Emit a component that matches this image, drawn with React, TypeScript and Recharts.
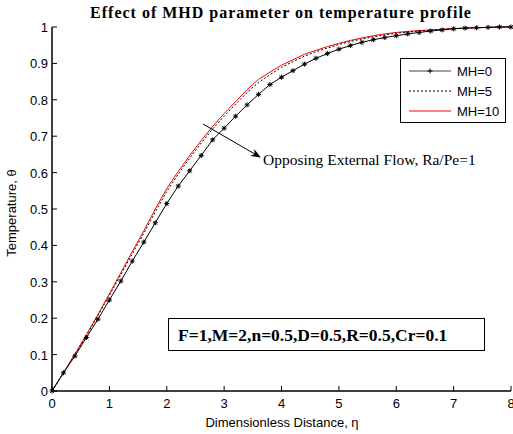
import React from "react";
import { LineChart, Line, XAxis, YAxis, Legend } from "recharts";

const eta = [0, 0.2, 0.4, 0.6, 0.8, 1.0, 1.2, 1.4, 1.6, 1.8, 2.0, 2.2, 2.4, 2.6, 2.8, 3.0, 3.2, 3.4, 3.6, 3.8, 4.0, 4.2, 4.4, 4.6, 4.8, 5.0, 5.2, 5.4, 5.6, 5.8, 6.0, 6.2, 6.4, 6.6, 6.8, 7.0, 7.2, 7.4, 7.6, 7.8, 8.0];
const mh0 = [0, 0.05, 0.096, 0.147, 0.197, 0.25, 0.302, 0.357, 0.409, 0.462, 0.515, 0.563, 0.605, 0.647, 0.69, 0.722, 0.755, 0.786, 0.815, 0.842, 0.862, 0.88, 0.898, 0.914, 0.927, 0.939, 0.949, 0.958, 0.965, 0.971, 0.976, 0.981, 0.985, 0.989, 0.992, 0.995, 0.997, 0.998, 0.999, 1.0, 1.0];
const mh5 = [0, 0.05, 0.1, 0.153, 0.207, 0.263, 0.32, 0.377, 0.433, 0.492, 0.548, 0.596, 0.64, 0.681, 0.72, 0.755, 0.788, 0.82, 0.848, 0.869, 0.889, 0.905, 0.92, 0.932, 0.942, 0.952, 0.96, 0.967, 0.973, 0.978, 0.983, 0.986, 0.989, 0.991, 0.993, 0.995, 0.997, 0.998, 0.999, 1.0, 1.0];
const mh10 = [0, 0.05, 0.102, 0.155, 0.21, 0.267, 0.325, 0.383, 0.44, 0.5, 0.556, 0.603, 0.647, 0.688, 0.727, 0.762, 0.795, 0.828, 0.856, 0.876, 0.895, 0.91, 0.925, 0.936, 0.946, 0.955, 0.963, 0.97, 0.976, 0.981, 0.985, 0.988, 0.99, 0.992, 0.994, 0.996, 0.997, 0.998, 0.999, 1.0, 1.0];

const xTicks = [0, 1, 2, 3, 4, 5, 6, 7, 8];
const yTicks = [0, 0.1, 0.2, 0.3, 0.4, 0.5, 0.6, 0.7, 0.8, 0.9, 1];
const seriesNames = ["MH=0", "MH=5", "MH=10"];

const titleText = "Effect of MHD parameter on temperature profile";
const xLabel = "Dimensionless Distance, \u03b7";
const yLabel = "Temperature, \u03b8";
const annotationText = "Opposing External Flow, Ra/Pe=1";
const paramText = "F=1,M=2,n=0.5,D=0.5,R=0.5,Cr=0.1";

const data = eta.map((e, i) => ({ eta: e, mh0: mh0[i], mh5: mh5[i], mh10: mh10[i] }));

const SANS = "'Liberation Sans', Arial, sans-serif";
const SERIF = "'Liberation Serif', 'Times New Roman', serif";
const TL = 5;

const fmtY = (v: number) => (v === 0 ? "0" : v === 1 ? "1" : v.toFixed(1));

const BottomTick = (p: any) => (
  <g>
    <line x1={p.x} y1={p.y} x2={p.x} y2={p.y - TL} stroke="#000" strokeWidth={1} />
    <text x={p.x} y={p.y + 17} textAnchor="middle" fontFamily={SANS} fontSize={13} fill="#000">
      {p.payload.value}
    </text>
  </g>
);
const TopTick = (p: any) => (
  <line x1={p.x} y1={p.y} x2={p.x} y2={p.y + TL} stroke="#000" strokeWidth={1} />
);
const LeftTick = (p: any) => (
  <g>
    <line x1={p.x} y1={p.y} x2={p.x + TL} y2={p.y} stroke="#000" strokeWidth={1} />
    <text x={p.x - 4} y={p.y + 5} textAnchor="end" fontFamily={SANS} fontSize={13} fill="#000">
      {fmtY(p.payload.value)}
    </text>
  </g>
);
const RightTick = (p: any) => (
  <line x1={p.x} y1={p.y} x2={p.x - TL} y2={p.y} stroke="#000" strokeWidth={1} />
);

const StarDot = (p: any) => {
  const { cx, cy, index } = p;
  if (cx == null || cy == null) return <g key={`d${index}`} />;
  const r = 2.5;
  return (
    <g key={`d${index}`} stroke="#000" strokeWidth={1}>
      <line x1={cx - r} y1={cy} x2={cx + r} y2={cy} />
      <line x1={cx} y1={cy - r} x2={cx} y2={cy + r} />
      <line x1={cx - 1.8} y1={cy - 1.8} x2={cx + 1.8} y2={cy + 1.8} />
      <line x1={cx - 1.8} y1={cy + 1.8} x2={cx + 1.8} y2={cy - 1.8} />
    </g>
  );
};

const LegendBox = () => (
  <svg width={107} height={66} style={{ display: "block" }}>
    <rect x={0.5} y={0.5} width={105} height={64} fill="#fff" stroke="#000" strokeWidth={1} />
    <line x1={9} y1={13} x2={51} y2={13} stroke="#444" strokeWidth={1.2} />
    <g stroke="#000" strokeWidth={1}>
      <line x1={27.5} y1={13} x2={32.5} y2={13} />
      <line x1={30} y1={10.5} x2={30} y2={15.5} />
    </g>
    <line x1={9} y1={33} x2={51} y2={33} stroke="#000" strokeWidth={1} strokeDasharray="2 2" />
    <line x1={9} y1={53} x2={51} y2={53} stroke="#ff0000" strokeWidth={1} />
    {seriesNames.map((n, i) => (
      <text key={n} x={57} y={18 + i * 20} fontFamily={SANS} fontSize={13} fill="#000">
        {n}
      </text>
    ))}
  </svg>
);

export default function App() {
  return (
    <div style={{ position: "absolute", left: 0, top: 0, width: 513, height: 434, background: "#fff" }}>
      <LineChart width={513} height={434} data={data} margin={{ top: 27, right: 2, left: 0, bottom: 0 }}>
        <XAxis
          dataKey="eta"
          type="number"
          domain={[0, 8]}
          ticks={xTicks}
          height={43}
          tickSize={0}
          tickMargin={0}
          tickLine={false}
          tick={<BottomTick />}
          axisLine={{ stroke: "#000", strokeWidth: 1.5 }}
          interval={0}
        />
        <XAxis
          xAxisId="top"
          orientation="top"
          dataKey="eta"
          type="number"
          domain={[0, 8]}
          ticks={xTicks}
          height={0}
          tickSize={0}
          tickMargin={0}
          tickLine={false}
          tick={<TopTick />}
          axisLine={{ stroke: "#000", strokeWidth: 1 }}
          interval={0}
        />
        <YAxis
          type="number"
          domain={[0, 1]}
          ticks={yTicks}
          width={52}
          tickSize={0}
          tickMargin={0}
          tickLine={false}
          tick={<LeftTick />}
          axisLine={{ stroke: "#000", strokeWidth: 1.5 }}
          interval={0}
        />
        <YAxis
          yAxisId="right"
          orientation="right"
          type="number"
          domain={[0, 1]}
          ticks={yTicks}
          width={0}
          tickSize={0}
          tickMargin={0}
          tickLine={false}
          tick={<RightTick />}
          axisLine={{ stroke: "#000", strokeWidth: 1 }}
          interval={0}
        />
        <Line
          dataKey="mh10"
          stroke="#ff0000"
          strokeWidth={1}
          dot={false}
          type="linear"
          isAnimationActive={false}
        />
        <Line
          dataKey="mh5"
          stroke="#000"
          strokeWidth={1}
          strokeDasharray="2 2"
          dot={false}
          type="linear"
          isAnimationActive={false}
        />
        <Line
          dataKey="mh0"
          stroke="#000"
          strokeWidth={1}
          dot={StarDot}
          type="linear"
          isAnimationActive={false}
        />
        <Legend
          layout="vertical"
          align="center"
          verticalAlign="middle"
          content={() => <LegendBox />}
          wrapperStyle={{ position: "absolute", left: 400, top: 58, width: 107, height: 66 }}
        />
      </LineChart>
      <svg
        width={513}
        height={434}
        style={{ position: "absolute", left: 0, top: 0, pointerEvents: "none" }}
      >
        <defs>
          <marker id="arr" markerWidth="10" markerHeight="8" refX="9" refY="4" orient="auto" markerUnits="userSpaceOnUse">
            <path d="M0,0 L10,4 L0,8 L3,4 Z" fill="#000" />
          </marker>
        </defs>
        <text x={281} y={18} textAnchor="middle" fontFamily={SERIF} fontWeight="bold" fontSize={16} letterSpacing={1} fill="#000">
          {titleText}
        </text>
        <text x={282} y={427} textAnchor="middle" fontFamily={SANS} fontSize={13} fill="#000">
          {xLabel}
        </text>
        <text
          x={0}
          y={0}
          transform="translate(16,213) rotate(-90)"
          textAnchor="middle"
          fontFamily={SANS}
          fontSize={13}
          fill="#000"
        >
          {yLabel}
        </text>
        <line x1={203} y1={124} x2={260} y2={157} stroke="#000" strokeWidth={1} markerEnd="url(#arr)" />
        <text x={263} y={165} fontFamily={SERIF} fontSize={15.5} fill="#000">
          {annotationText}
        </text>
        <rect x={168.5} y={318.5} width={316} height={32} fill="none" stroke="#000" strokeWidth={1} />
        <text x={178} y={341} fontFamily={SERIF} fontWeight="bold" fontSize={17.5} fill="#000">
          {paramText}
        </text>
      </svg>
    </div>
  );
}
